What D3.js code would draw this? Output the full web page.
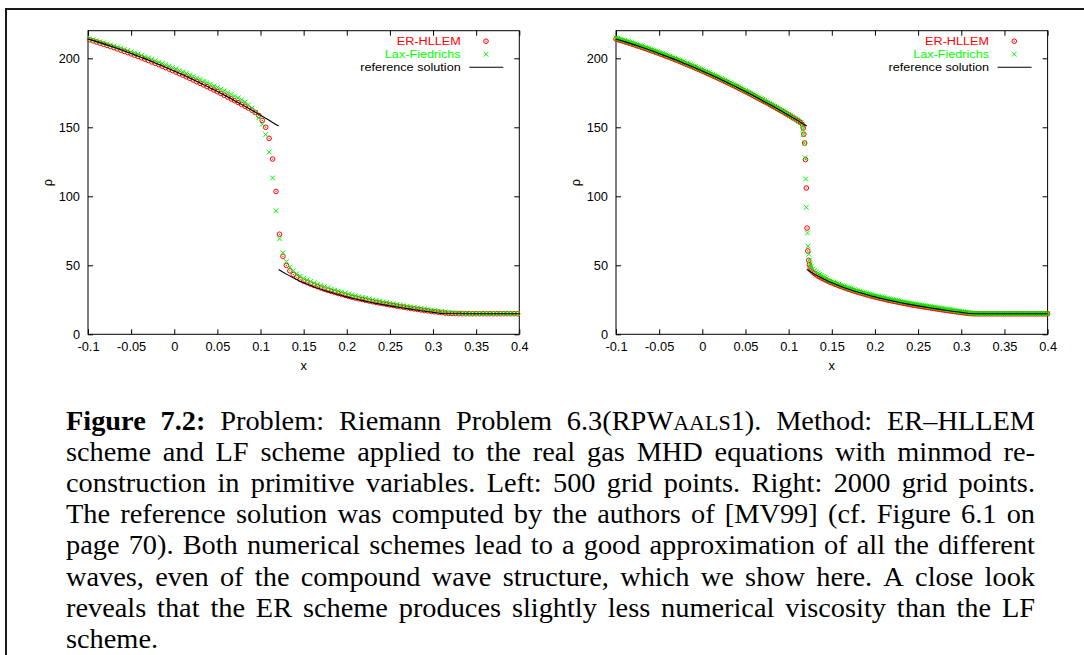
<!DOCTYPE html>
<html>
<head>
<meta charset="utf-8">
<script src="https://cdn.jsdelivr.net/npm/d3@7"></script>
<style>
  html, body { margin: 0; padding: 0; background: #fff; }
  svg { display: block; }
</style>
</head>
<body>
<svg id="fig" width="1084" height="655"></svg>
<script>
// ---------------------------------------------------------------
// Axis ticks and labels
// ---------------------------------------------------------------
const xTicks = [-0.1, -0.05, 0, 0.05, 0.1, 0.15, 0.2, 0.25, 0.3, 0.35, 0.4];
const yTicks = [0, 50, 100, 150, 200];
const xDomain = [-0.1, 0.4];
const yDomain = [0, 220];
const seriesNames = ["ER-HLLEM", "Lax-Fiedrichs", "reference solution"];
const axisLabelX = "x";
const axisLabelY = "ρ";

// ---------------------------------------------------------------
// Reference solution (same for both panels): rarefaction part and
// the tail behind the compound wave
// ---------------------------------------------------------------
const refUpperX = [-0.10, -0.09, -0.08, -0.07, -0.06, -0.05, -0.04, -0.03, -0.02, -0.01,
                   0.00, 0.01, 0.02, 0.03, 0.04, 0.05, 0.06, 0.07, 0.08, 0.09,
                   0.10, 0.11, 0.12, 0.121];
const refUpperRho = [214.0, 212.1, 210.1, 208.0, 205.8, 203.5, 201.1, 198.7, 196.1, 193.5,
                     190.8, 188.0, 185.1, 182.1, 179.1, 175.9, 172.7, 169.3, 165.9, 162.4,
                     158.8, 155.1, 151.3, 151.0];
const refLowerX = [0.121, 0.13, 0.14, 0.15, 0.16, 0.17, 0.18, 0.19, 0.20, 0.21,
                   0.22, 0.23, 0.24, 0.25, 0.26, 0.27, 0.28, 0.29, 0.30, 0.31,
                   0.32, 0.36, 0.40];
const refLowerRho = [47.0, 43.6, 40.3, 37.3, 34.8, 32.6, 30.6, 28.8, 27.1, 25.6,
                     24.2, 22.9, 21.7, 20.6, 19.6, 18.6, 17.6, 16.7, 15.9, 15.1,
                     14.9, 14.9, 14.9];

// ---------------------------------------------------------------
// Left panel: 500 grid points (every second cell shown)
// ---------------------------------------------------------------
const leftX0 = -0.098;
const leftStep = 0.004;
const erLeft = [
  213.4, 212.6, 211.8, 211.0, 210.2, 209.4, 208.5, 207.7, 206.8, 205.9,
  205.0, 204.1, 203.2, 202.3, 201.3, 200.4, 199.4, 198.4, 197.4, 196.4,
  195.4, 194.3, 193.3, 192.2, 191.1, 190.0, 188.9, 187.8, 186.6, 185.5,
  184.3, 183.1, 181.9, 180.7, 179.5, 178.3, 177.0, 175.8, 174.5, 173.2,
  171.9, 170.6, 169.3, 168.0, 166.6, 165.3, 163.9, 162.4, 160.8, 158.6,
  155.0, 150.0, 142.0, 127.0, 103.5, 72.5, 56.5, 49.9, 46.0, 43.3,
  41.3, 39.7,
  38.5, 37.4, 36.4, 35.4, 34.5, 33.6, 32.7, 31.9, 31.1, 30.3,
  29.6, 28.9, 28.2, 27.5, 26.9, 26.3, 25.7, 25.2, 24.6, 24.1,
  23.6, 23.1, 22.6, 22.2, 21.7, 21.3, 20.9, 20.4, 20.0, 19.6,
  19.2, 18.8, 18.4, 18.0, 17.7, 17.3, 17.0, 16.6, 16.3, 16.0,
  15.7, 15.4, 15.2, 15.1, 15.0,
  14.9, 14.9, 14.9, 14.9, 14.9, 14.9, 14.9, 14.9, 14.9,
  14.9, 14.9, 14.9, 14.9, 14.9, 14.9, 14.9, 14.9, 14.9
];
const lfLeft = [
  214.1, 213.4, 212.7, 212.0, 211.2, 210.5, 209.7, 208.9, 208.1, 207.3,
  206.4, 205.6, 204.7, 203.9, 203.0, 202.1, 201.1, 200.2, 199.3, 198.3,
  197.3, 196.3, 195.3, 194.3, 193.3, 192.3, 191.2, 190.2, 189.1, 188.0,
  186.9, 185.8, 184.7, 183.5, 182.4, 181.2, 180.0, 178.8, 177.6, 176.4,
  175.1, 173.8, 172.6, 171.3, 169.9, 168.3, 166.3, 163.8, 160.8, 156.9,
  152.2, 144.7, 132.1, 113.3, 89.5, 69.2, 59.1, 52.7, 48.8, 46.0,
  43.9, 42.1,
  40.6, 39.4, 38.3, 37.3, 36.3, 35.4, 34.5, 33.7, 32.8, 32.0,
  31.3, 30.6, 29.8, 29.2, 28.5, 27.9, 27.3, 26.7, 26.1, 25.6,
  25.0, 24.5, 24.0, 23.5, 23.0, 22.5, 22.1, 21.6, 21.2, 20.7,
  20.3, 19.9, 19.5, 19.1, 18.7, 18.3, 17.9, 17.5, 17.2, 16.8,
  16.5, 16.2, 15.9, 15.7, 15.5, 15.4, 15.3, 15.2, 15.1,
  15.0, 15.0, 15.0, 15.0, 15.0, 15.0, 15.0,
  15.0, 15.0, 15.0, 15.0, 15.0, 15.0, 15.0
];

// ---------------------------------------------------------------
// Right panel: 2000 grid points
// ---------------------------------------------------------------
const rightUpperX0 = -0.1;
const rightLowerX0 = 0.126;
const rightStep = 0.002;
const erRightUpper = [
  214.0, 213.6, 213.2, 212.9, 212.5, 212.1, 211.7, 211.3, 210.9, 210.5,
  210.1, 209.7, 209.2, 208.8, 208.4, 208.0, 207.5, 207.1, 206.7, 206.2,
  205.8, 205.3, 204.9, 204.4, 204.0, 203.5, 203.0, 202.6, 202.1, 201.6,
  201.1, 200.7, 200.2, 199.7, 199.2, 198.7, 198.2, 197.7, 197.2, 196.7,
  196.1, 195.6, 195.1, 194.6, 194.1, 193.5, 193.0, 192.4, 191.9, 191.4,
  190.8, 190.3, 189.7, 189.1, 188.6, 188.0, 187.4, 186.9, 186.3, 185.7,
  185.1, 184.5, 183.9, 183.3, 182.7, 182.1, 181.5, 180.9, 180.3, 179.7,
  179.1, 178.4, 177.8, 177.2, 176.5, 175.9, 175.3, 174.6, 174.0, 173.3,
  172.7, 172.0, 171.3, 170.7, 170.0, 169.3, 168.7, 168.0, 167.3, 166.6,
  165.9, 165.2, 164.5, 163.8, 163.1, 162.4, 161.7, 161.0, 160.3, 159.5,
  158.8, 158.1, 157.3, 156.6, 155.9, 155.1, 154.4, 153.4, 152.0
];
const lfRightUpper = [
  214.8, 214.4, 214.0, 213.7, 213.3, 212.9, 212.5, 212.1, 211.7, 211.3,
  210.9, 210.5, 210.0, 209.6, 209.2, 208.8, 208.3, 207.9, 207.5, 207.0,
  206.6, 206.1, 205.7, 205.2, 204.8, 204.3, 203.8, 203.4, 202.9, 202.4,
  201.9, 201.5, 201.0, 200.5, 200.0, 199.5, 199.0, 198.5, 198.0, 197.5,
  196.9, 196.4, 195.9, 195.4, 194.9, 194.3, 193.8, 193.2, 192.7, 192.2,
  191.6, 191.1, 190.5, 189.9, 189.4, 188.8, 188.2, 187.7, 187.1, 186.5,
  185.9, 185.3, 184.7, 184.1, 183.5, 182.9, 182.3, 181.7, 181.1, 180.5,
  179.9, 179.2, 178.6, 178.0, 177.3, 176.7, 176.1, 175.4, 174.8, 174.1,
  173.5, 172.8, 172.1, 171.5, 170.8, 170.1, 169.5, 168.8, 168.1, 167.4,
  166.7, 166.0, 165.3, 164.6, 163.9, 163.2, 162.5, 161.8, 161.0, 160.2,
  159.4, 158.6, 157.7, 156.9, 156.1, 155.3, 154.4, 153.3, 151.2
];
// cells inside the compound wave
const erJumpX = [0.1170, 0.1176, 0.1185, 0.1195, 0.1205, 0.1213, 0.1222, 0.1232, 0.1241, 0.1250];
const erJumpRho = [149.5, 145.0, 138.6, 126.6, 106.0, 77.0, 60.4, 53.6, 50.4, 48.2];
const lfJumpX = [0.1165, 0.1170, 0.1182, 0.1190, 0.1197, 0.1205, 0.1218, 0.1226, 0.1234, 0.1242, 0.1250];
const lfJumpRho = [148.5, 144.7, 138.6, 128.0, 112.6, 92.0, 73.4, 63.8, 58.0, 53.8, 50.8];
const erRightLower = [
  46.4, 45.0, 44.0, 43.1, 42.2, 41.6, 40.9, 40.3, 39.7, 39.0,
  38.4, 37.8, 37.3, 36.8, 36.3, 35.8, 35.3, 34.8, 34.4, 33.9,
  33.5, 33.0, 32.6, 32.2, 31.8, 31.4, 31.0, 30.6, 30.2, 29.9,
  29.5, 29.1, 28.8, 28.4, 28.1, 27.7, 27.4, 27.1, 26.8, 26.5,
  26.2, 25.9, 25.6, 25.3, 25.0, 24.7, 24.5, 24.2, 23.9, 23.7,
  23.4, 23.2, 22.9, 22.7, 22.4, 22.2, 21.9, 21.7, 21.5, 21.2,
  21.0, 20.8, 20.6, 20.4, 20.2, 20.0, 19.8, 19.6, 19.4, 19.2,
  19.0, 18.8, 18.6, 18.4, 18.2, 18.0, 17.8, 17.6, 17.4, 17.2,
  17.1, 16.9, 16.7, 16.5, 16.4, 16.2, 16.0, 15.9, 15.7, 15.5,
  15.4, 15.2, 15.1, 15.0,
  14.9, 14.9, 14.9, 14.9, 14.9, 14.9, 14.9, 14.9, 14.9, 14.9, 14.9,
  14.9, 14.9, 14.9, 14.9, 14.9, 14.9, 14.9, 14.9, 14.9, 14.9, 14.9,
  14.9, 14.9, 14.9, 14.9, 14.9, 14.9, 14.9, 14.9, 14.9, 14.9, 14.9,
  14.9, 14.9, 14.9, 14.9, 14.9, 14.9, 14.9, 14.9, 14.9, 14.9, 14.9
];
const lfRightLower = [
  49.0, 47.4, 46.2, 45.2, 44.3, 43.5, 42.7, 41.9, 41.2, 40.4,
  39.3, 38.7, 38.2, 37.7, 37.2, 36.7, 36.2, 35.7, 35.3, 34.8,
  34.4, 33.9, 33.5, 33.1, 32.7, 32.3, 31.9, 31.5, 31.1, 30.8,
  30.4, 30.0, 29.7, 29.3, 29.0, 28.6, 28.3, 28.0, 27.7, 27.4,
  27.1, 26.8, 26.5, 26.2, 25.9, 25.6, 25.4, 25.1, 24.8, 24.6,
  24.3, 24.1, 23.8, 23.6, 23.3, 23.1, 22.8, 22.6, 22.4, 22.1,
  21.9, 21.7, 21.5, 21.3, 21.1, 20.9, 20.7, 20.5, 20.3, 20.1,
  19.9, 19.7, 19.5, 19.3, 19.1, 18.9, 18.7, 18.5, 18.3, 18.1,
  17.9, 17.7, 17.5, 17.3, 17.1, 16.9, 16.7, 16.5, 16.3, 16.1,
  15.9, 15.7, 15.5, 15.4, 15.3, 15.2, 15.1, 15.0, 15.0, 15.0,
  15.0, 15.0, 15.0, 15.0, 15.0, 15.0, 15.0, 15.0, 15.0, 15.0,
  15.0, 15.0, 15.0, 15.0, 15.0, 15.0, 15.0, 15.0, 15.0, 15.0,
  15.0, 15.0, 15.0, 15.0, 15.0, 15.0, 15.0, 15.0, 15.0, 15.0,
  15.0, 15.0, 15.0, 15.0, 15.0, 15.0, 15.0, 15.0
];

// ---------------------------------------------------------------
// Caption. *word = bold, {TEXT} = small capitals
// ---------------------------------------------------------------
const captionLines = [
  "*Figure *7.2: Problem: Riemann Problem 6.3(RPW{AALS}1). Method: ER–HLLEM",
  "scheme and LF scheme applied to the real gas MHD equations with minmod re-",
  "construction in primitive variables. Left: 500 grid points. Right: 2000 grid points.",
  "The reference solution was computed by the authors of [MV99] (cf. Figure 6.1 on",
  "page 70). Both numerical schemes lead to a good approximation of all the different",
  "waves, even of the compound wave structure, which we show here. A close look",
  "reveals that the ER scheme produces slightly less numerical viscosity than the LF",
  "scheme."
];

// ---------------------------------------------------------------
// Helpers that turn the arrays into point lists
// ---------------------------------------------------------------
const gridPoints = (x0, step, vals) => vals.map((v, i) => ({ x: x0 + i * step, y: v }));
const pairPoints = (xs, ys) => xs.map((v, i) => ({ x: v, y: ys[i] }));

const panels = [
  {
    left: 88, right: 519.3,
    er: gridPoints(leftX0, leftStep, erLeft),
    lf: gridPoints(leftX0, leftStep, lfLeft)
  },
  {
    left: 616, right: 1047.6,
    er: gridPoints(rightUpperX0, rightStep, erRightUpper)
          .concat(pairPoints(erJumpX, erJumpRho))
          .concat(gridPoints(rightLowerX0, rightStep, erRightLower)),
    lf: gridPoints(rightUpperX0, rightStep, lfRightUpper)
          .concat(pairPoints(lfJumpX, lfJumpRho))
          .concat(gridPoints(rightLowerX0, rightStep, lfRightLower))
  }
];
const plotTop = 30.7, plotBottom = 334.3;

const RED = "#ff0000", GREEN = "#00ff00";
const SANS = "'Liberation Sans', Arial, Helvetica, sans-serif";
const LABEL_SIZE = "12.8px";

const svg = d3.select("#fig");
svg.append("rect").attr("width", 1084).attr("height", 655).attr("fill", "#fff");

// page rule lines around the figure
svg.append("line").attr("x1", 5).attr("x2", 1084).attr("y1", 9).attr("y2", 9)
  .attr("stroke", "#1a1a1a").attr("stroke-width", 2);
svg.append("line").attr("x1", 6).attr("x2", 6).attr("y1", 8).attr("y2", 655)
  .attr("stroke", "#1a1a1a").attr("stroke-width", 2);

// marker glyphs
function drawCircleMark(sel, cx, cy) {
  sel.append("circle").attr("cx", cx).attr("cy", cy).attr("r", 2.3)
    .attr("fill", "none").attr("stroke", RED).attr("stroke-width", 1);
  sel.append("circle").attr("cx", cx).attr("cy", cy).attr("r", 0.6).attr("fill", RED);
}
function drawCrossMark(sel, cx, cy) {
  const s = 2.4;
  sel.append("path")
    .attr("d", `M${cx - s},${cy - s}L${cx + s},${cy + s}M${cx - s},${cy + s}L${cx + s},${cy - s}`)
    .attr("stroke", GREEN).attr("stroke-width", 1).attr("fill", "none");
}

panels.forEach(p => {
  const x = d3.scaleLinear().domain(xDomain).range([p.left, p.right]);
  const y = d3.scaleLinear().domain(yDomain).range([plotBottom, plotTop]);
  const g = svg.append("g");

  // axes with inward ticks on all four sides
  const styleAxis = a => {
    a.select(".domain").remove();
    a.selectAll(".tick line").attr("stroke", "#000").attr("stroke-width", 1);
    a.selectAll(".tick text").attr("fill", "#000")
      .style("font-family", SANS).style("font-size", LABEL_SIZE);
  };
  g.append("g").attr("transform", `translate(0,${plotBottom})`)
    .call(d3.axisBottom(x).tickValues(xTicks).tickFormat(d => String(d))
      .tickSizeInner(-5).tickSizeOuter(0).tickPadding(8))
    .call(styleAxis);
  g.append("g").attr("transform", `translate(0,${plotTop})`)
    .call(d3.axisTop(x).tickValues(xTicks).tickFormat("")
      .tickSizeInner(-5).tickSizeOuter(0))
    .call(styleAxis);
  g.append("g").attr("transform", `translate(${p.left},0)`)
    .call(d3.axisLeft(y).tickValues(yTicks).tickFormat(d => String(d))
      .tickSizeInner(-5).tickSizeOuter(0).tickPadding(8))
    .call(styleAxis);
  g.append("g").attr("transform", `translate(${p.right},0)`)
    .call(d3.axisRight(y).tickValues(yTicks).tickFormat("")
      .tickSizeInner(-5).tickSizeOuter(0))
    .call(styleAxis);

  // frame
  g.append("rect")
    .attr("x", p.left).attr("y", plotTop)
    .attr("width", p.right - p.left).attr("height", plotBottom - plotTop)
    .attr("fill", "none").attr("stroke", "#000").attr("stroke-width", 1);

  // axis titles
  g.append("text").attr("x", (p.left + p.right) / 2).attr("y", 370)
    .attr("text-anchor", "middle").style("font-family", SANS).style("font-size", LABEL_SIZE)
    .text(axisLabelX);
  g.append("text")
    .attr("transform", `translate(${p.left - 40},${(plotTop + plotBottom) / 2}) rotate(-90)`)
    .attr("text-anchor", "middle").attr("dy", "0.35em")
    .style("font-family", SANS).style("font-size", LABEL_SIZE)
    .text(axisLabelY);

  // ER-HLLEM markers
  const gEr = g.append("g");
  p.er.forEach(d => drawCircleMark(gEr, x(d.x), y(d.y)));
  // Lax-Friedrichs markers
  const gLf = g.append("g");
  p.lf.forEach(d => drawCrossMark(gLf, x(d.x), y(d.y)));

  // reference solution
  const line = d3.line().x(d => x(d.x)).y(d => y(d.y)).curve(d3.curveMonotoneX);
  [pairPoints(refUpperX, refUpperRho), pairPoints(refLowerX, refLowerRho)].forEach(seg => {
    g.append("path").attr("d", line(seg)).attr("fill", "none")
      .attr("stroke", "#000").attr("stroke-width", 1.1);
  });

  // legend: compact rows, glyphs widened slightly to keep the key's width
  const lg = g.append("g");
  const textX = p.right - 58.6, symX = p.right - 33.3;
  const rows = [plotTop + 10.5, plotTop + 23.5, plotTop + 36.5];
  const colors = [RED, GREEN, "#000"];
  seriesNames.forEach((name, i) => {
    lg.append("text")
      .attr("transform", `translate(${textX},${rows[i]}) scale(1.1,1)`)
      .attr("dy", "0.35em")
      .attr("text-anchor", "end").attr("fill", colors[i])
      .style("font-family", SANS).style("font-size", "11.5px").text(name);
  });
  drawCircleMark(lg, symX, rows[0]);
  drawCrossMark(lg, symX, rows[1]);
  lg.append("line").attr("x1", p.right - 50).attr("x2", p.right - 16)
    .attr("y1", rows[2]).attr("y2", rows[2]).attr("stroke", "#000").attr("stroke-width", 1.1);
});

// ---------------------------------------------------------------
// Justified caption
// ---------------------------------------------------------------
const capLeft = 66, capRight = 1035, capBase = 430, capLead = 31.1;
const capScale = 1.05;
const capWidth = (capRight - capLeft) / capScale;
const capG = svg.append("g").style("font-family", "'Liberation Serif', 'Times New Roman', serif")
  .style("font-size", "27px").attr("fill", "#000");

captionLines.forEach((ln, li) => {
  const lineG = capG.append("g")
    .attr("transform", `translate(${capLeft},${capBase + li * capLead}) scale(${capScale},1)`);
  const t = lineG.append("text").attr("x", 0).attr("y", 0);
  const words = ln.split(/\s+/);
  const wordSpans = words.map(w => {
    let bold = false;
    if (w.startsWith("*")) { bold = true; w = w.slice(1); }
    const parts = w.split(/[{}]/);
    return parts.map((part, k) => {
      if (!part) return null;
      const s = t.append("tspan").text(part);
      if (bold) s.style("font-weight", "bold");
      if (k % 2 === 1) s.style("font-size", "21px");
      return s;
    }).filter(Boolean);
  });
  const widths = wordSpans.map(spans => d3.sum(spans, s => s.node().getComputedTextLength()));
  const total = d3.sum(widths);
  const last = li === captionLines.length - 1;
  const gap = last ? 8 : (capWidth - total) / (words.length - 1);
  let cx = 0;
  wordSpans.forEach((spans, wi) => {
    spans[0].attr("x", cx);
    cx += widths[wi] + gap;
    if (wi < wordSpans.length - 1) {
      const sp = spans[spans.length - 1];
      sp.text(sp.text() + " ");
    }
  });
});
</script>
</body>
</html>
